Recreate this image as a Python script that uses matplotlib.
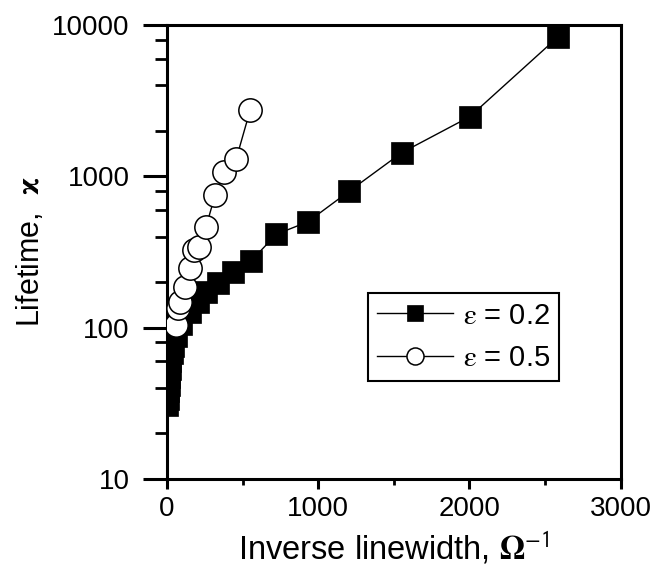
import numpy as np
import matplotlib
matplotlib.use("Agg")
import matplotlib.pyplot as plt
from matplotlib.ticker import LogLocator, MultipleLocator, FixedLocator, FuncFormatter

plt.rcParams['font.family'] = ['Liberation Sans', 'DejaVu Sans']
plt.rcParams['mathtext.fontset'] = 'stix'

# eps = 0.2 series (filled squares)
x_sq = [3, 5, 7, 10, 13, 17, 22, 30, 40, 58, 95, 150, 207, 260, 334, 434,
        557, 723, 932, 1203, 1552, 2002, 2587]
y_sq = [31, 34, 38, 42, 47, 53, 60, 68, 76, 88, 106, 126, 147, 171, 196, 232,
        277, 414, 501, 795, 1432, 2477, 8370]

# eps = 0.5 series (open circles)
x_ci = [60, 75, 86, 119, 152, 181, 214, 258, 318, 377, 457, 550]
y_ci = [104, 134, 148, 186, 247, 326, 343, 464, 751, 1072, 1295, 2742]

labels = [r"$\mathrm{\varepsilon}$ = 0.2", r"$\mathrm{\varepsilon}$ = 0.5"]
x_ticks = [0, 1000, 2000, 3000]
y_ticks = [10, 100, 1000, 10000]

fig = plt.figure(figsize=(6.58, 5.85), dpi=100)
ax = fig.add_axes([0.2538, 0.1812, 0.6895, 0.7761])

ax.plot(x_sq, y_sq, color='black', lw=1.0, marker='s', ms=15.8,
        mfc='black', mec='black', mew=0.5, label=labels[0], zorder=3)
ax.plot(x_ci, y_ci, color='black', lw=1.0, marker='o', ms=16.8,
        mfc='white', mec='black', mew=1.1, label=labels[1], zorder=4)

ax.set_yscale('log')
ax.set_xlim(0, 3000)
ax.set_ylim(10, 10000)

ax.xaxis.set_major_locator(FixedLocator(x_ticks))
ax.xaxis.set_minor_locator(MultipleLocator(500))
ax.yaxis.set_major_locator(FixedLocator(y_ticks))
ax.yaxis.set_minor_locator(LogLocator(base=10, subs=(2, 4, 6, 8)))
ax.yaxis.set_major_formatter(FuncFormatter(lambda v, p: f"{v:g}"))
ax.yaxis.set_minor_formatter(FuncFormatter(lambda v, p: ""))

for s in ax.spines.values():
    s.set_linewidth(2.2)

ax.tick_params(axis='y', which='major', direction='out', length=17, width=2.2,
               labelsize=20, pad=10)
ax.tick_params(axis='y', which='minor', direction='out', length=9, width=2.0)
ax.tick_params(axis='x', which='major', direction='out', length=7, width=2.2,
               labelsize=20, pad=5)
ax.tick_params(axis='x', which='minor', direction='out', length=4, width=2.0)

ax.set_xlabel(r"Inverse linewidth, $\mathbf{\Omega}^{\mathsf{-1}}$", fontsize=23.5, labelpad=6)
ax.set_ylabel(r"Lifetime,  $\mathbf{\varkappa}$", fontsize=22, labelpad=4)

leg = ax.legend(loc='upper left', bbox_to_anchor=(0.443, 0.41), borderaxespad=0,
                fontsize=21, markerscale=0.73, handlelength=2.6,
                handletextpad=0.35, labelspacing=0.5, borderpad=0.3,
                fancybox=False, framealpha=1, edgecolor='black')
leg.get_frame().set_linewidth(1.5)

fig.savefig("out.png", dpi=100)
